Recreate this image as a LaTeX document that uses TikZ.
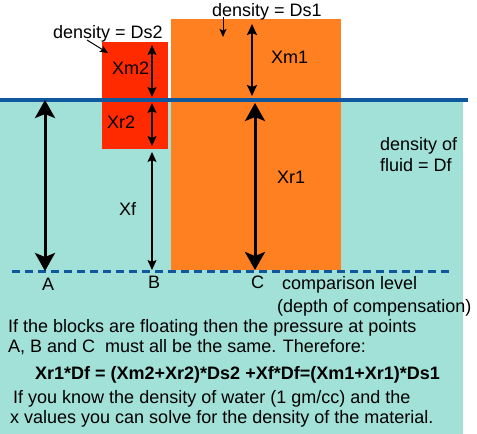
\documentclass[tikz,border=0pt]{standalone}
\usepackage{fontspec}
\setmainfont{Liberation Sans}
\usetikzlibrary{arrows.meta,positioning}

\definecolor{fluidcyan}{RGB}{161,225,216}
\definecolor{lineblue}{RGB}{16,88,158}
\definecolor{blockred}{RGB}{255,42,0}
\definecolor{blockorange}{RGB}{255,128,32}

\begin{document}
\begin{tikzpicture}[%
    x=1pt, y=-1pt,                        % pixel grid, y going down
    font=\fontsize{18}{20}\selectfont
    ]

\tikzset{
    block/.style={anchor=north west, inner sep=0pt, outer sep=0pt},
    lbl/.style={anchor=base west, inner sep=0pt},
    % Arrows
    bigarr/.style={{Stealth[length=18pt,width=20pt,inset=4pt]}-{Stealth[length=18pt,width=20pt,inset=4pt]}, line width=3pt},
    midarr/.style={{Stealth[length=11pt,width=10pt,inset=2pt]}-{Stealth[length=11pt,width=10pt,inset=2pt]}, line width=2pt},
    thinarr/.style={{Stealth[length=10pt,width=9pt,inset=2pt]}-{Stealth[length=10pt,width=9pt,inset=2pt]}, line width=1.2pt},
    ptr/.style={-{Stealth[length=8pt,width=7pt,inset=1.5pt]}, line width=1pt},
    % Levels
    surface/.style={lineblue, line width=3.5pt},
    complevel/.style={lineblue, line width=3pt, dash pattern=on 8pt off 5pt}
}

\useasboundingbox (0,0) rectangle (477,434);

%% Fluid
\fill [fluidcyan] (0,100) rectangle (463,434);

%% Blocks
\node [block, fill=blockred, minimum width=66pt, minimum height=107pt] (blk2) at (102,42) {};
\node [block, fill=blockorange, minimum width=170pt, minimum height=251pt] (blk1) at (171,19) {};

%% Surface and comparison level
\coordinate (sl) at (0,100);
\coordinate (sr) at (468,100);
    \draw [surface] (sl) -- (sr);
\coordinate (cl) at (12,271);
\coordinate (cr) at (450,271);
    \draw [complevel] (cl) -- (cr);

%% Point A
\coordinate (topA) at (45,100);
\coordinate (ptA) at (45,271);
    \draw [bigarr] (topA) -- (ptA);

%% Point B (small block)
\coordinate (b1) at (152,45);
\coordinate (b2) at (152,97);
\coordinate (b3) at (152,103);
\coordinate (b4) at (152,146);
\coordinate (b5) at (152,152);
\coordinate (ptB) at (152,270);
    \draw [thinarr] (b1) -- (b2);
    \draw [thinarr] (b3) -- (b4);
    \draw [thinarr] (b5) -- (ptB);

%% Point C (big block)
\coordinate (c1) at (252,24);
\coordinate (c2) at (252,96);
\coordinate (c3) at (255,103);
\coordinate (ptC) at (255,270);
    \draw [midarr] (c1) -- (c2);
    \draw [bigarr] (c3) -- (ptC);

%% Labels
\node [lbl] (ds2) at (53,38) {density = Ds2};
\coordinate (ds2s) at (87,40);
\coordinate (ds2e) at (108,53);
    \draw [ptr] (ds2s) -- (ds2e);
\node [lbl] (ds1) at (212,16) {density = Ds1};
\coordinate (ds1s) at (223,17);
\coordinate (ds1e) at (223,37);
    \draw [ptr] (ds1s) -- (ds1e);

\node [lbl] (xm2) at (112,74) {Xm2};
\node [lbl] (xr2) at (107,128) {Xr2};
\node [lbl] (xf) at (119,215) {Xf};
\node [lbl] (xm1) at (271,63) {Xm1};
\node [lbl] (xr1) at (277,183) {Xr1};
\node [lbl] (df1) at (380,150) {density of};
\node [lbl] (df2) at (380,171) {fluid = Df};

\node [lbl] (labA) at (42,290) {A};
\node [lbl] (labB) at (148,288) {B};
\node [lbl] (labC) at (251,288) {C};
\node [lbl] (comp) at (282,289) {comparison level};
\node [lbl] (depth) at (277,312) {(depth of compensation)};

%% Explanation
\node [lbl] (t1) at (8,332) {If the blocks are floating then the pressure at points};
\node [lbl] (t2) at (8,352) {A, B and C\ \ must all be the same. Therefore:};
\node [lbl, font=\fontsize{18}{20}\selectfont\bfseries] (eq) at (35,379) {Xr1*Df = (Xm2+Xr2)*Ds2 +Xf*Df=(Xm1+Xr1)*Ds1};
\node [lbl] (t3) at (13,403) {If you know the density of water (1 gm/cc) and the};
\node [lbl] (t4) at (10,423) {x values you can solve for the density of the material.};
\end{tikzpicture}
\end{document}
